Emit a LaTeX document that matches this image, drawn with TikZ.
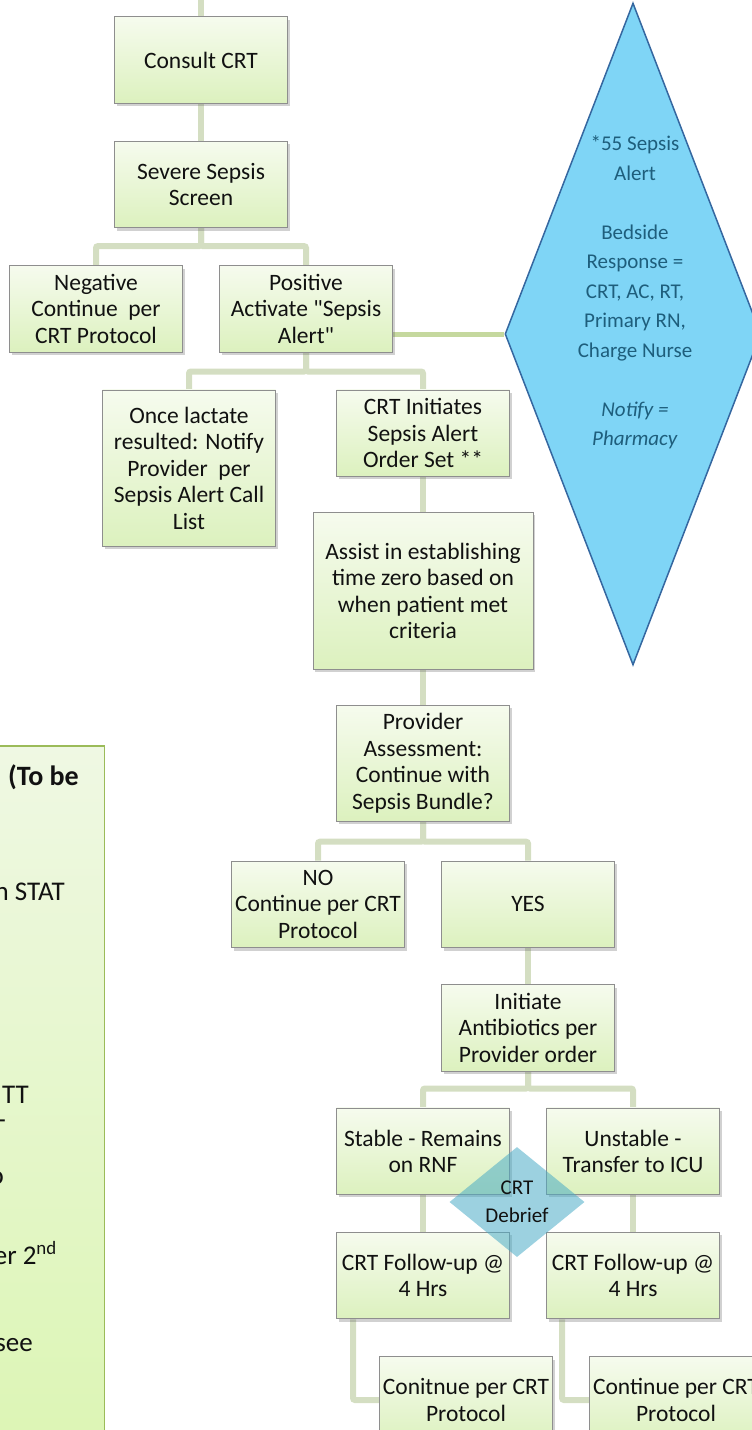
\documentclass[tikz,border=0pt]{standalone}
\usepackage{fontspec}
\setmainfont{Carlito}[Ligatures=TeXOff]
\usepackage{tikz}
\usetikzlibrary{
  backgrounds,
  positioning,
  shadows,
  shapes.geometric
}
\definecolor{ink}{HTML}{111111}
\definecolor{boxtop}{HTML}{F6FBEE}
\definecolor{boxbottom}{HTML}{DCF1BE}
\definecolor{boxline}{HTML}{8E8E8E}
\definecolor{link}{HTML}{D4DEC2}
\definecolor{alertlink}{HTML}{C5D89E}
\definecolor{alertfill}{HTML}{7FD5F6}
\definecolor{alertline}{HTML}{3567A0}
\definecolor{alerttext}{HTML}{1E5E7C}
\definecolor{debrief}{HTML}{4BACC6}
\definecolor{keyline}{HTML}{9BBB59}
\definecolor{keytop}{HTML}{EFF8E3}
\definecolor{keybottom}{HTML}{DBF5B2}
\tikzset{
  stepbox/.style={
    draw=boxline,
    line width=0.9pt,
    top color=boxtop,
    bottom color=boxbottom,
    drop shadow={shadow xshift=2pt, shadow yshift=-3pt, fill=black!60, opacity=0.3},
    minimum width=173pt,
    minimum height=86.5pt,
    inner sep=2pt,
    align=center,
    text=ink,
    font=\fontsize{23.5}{26.5}\selectfont
  },
  link/.style={
    draw=link,
    line width=6pt,
    rounded corners=2pt
  },
  alertlink/.style={
    draw=alertlink,
    line width=5pt
  },
  alertshape/.style={
    diamond,
    draw=alertline,
    line width=1.5pt,
    fill=alertfill,
    inner sep=0pt,
    minimum width=256pt,
    minimum height=662pt
  },
  alertlabel/.style={
    align=center,
    inner sep=0pt,
    text=alerttext,
    font=\fontsize{21}{29.5}\selectfont
  },
  debriefshape/.style={
    diamond,
    aspect=1.23,
    fill=debrief,
    fill opacity=0.55,
    text opacity=1,
    inner sep=0pt,
    minimum width=135pt,
    minimum height=110pt,
    align=center,
    text=ink,
    font=\fontsize{21}{28}\selectfont
  },
  keybox/.style={
    draw=keyline,
    line width=1.5pt,
    top color=keytop,
    bottom color=keybottom
  },
  keytext/.style={
    anchor=east,
    inner sep=0pt,
    text=ink,
    font=\fontsize{27}{30}\selectfont
  }
}

\begin{document}
\begin{tikzpicture}[x=1pt, y=1pt, node distance=37pt]
  \useasboundingbox (0,0) rectangle (752,-1430);
  \clip (0,0) rectangle (752,-1430);

  \node[stepbox] (consult) at (201,-60) {Consult CRT};
  \coordinate[above=30pt of consult.north] (entry);
  \node[stepbox, below=of consult] (severe) {Severe Sepsis\\Screen};
  \node[stepbox, below=of severe, xshift=-105pt] (neg)
    {Negative\\Continue\ \ per\\CRT Protocol};
  \node[stepbox, below=of severe, xshift=105pt] (pos)
    {Positive\\Activate "Sepsis\\Alert"};
  \node[stepbox, below=of pos, xshift=-117pt, minimum height=156pt] (lactate)
    {Once lactate\\resulted: Notify\\Provider\ \ per\\Sepsis Alert Call\\List};
  \node[stepbox, below=of pos, xshift=117pt] (initiates)
    {CRT Initiates\\Sepsis Alert\\Order Set **};
  \node[stepbox, below=35pt of initiates, minimum width=220pt, minimum height=157pt] (assist)
    {Assist in establishing\\time zero based on\\when patient met\\criteria};
  \node[stepbox, below=35pt of assist, minimum height=116pt] (provider)
    {Provider\\Assessment:\\Continue with\\Sepsis Bundle?};
  \node[stepbox, below=39pt of provider, xshift=-105pt] (no)
    {NO\\Continue per CRT\\Protocol};
  \node[stepbox, below=39pt of provider, xshift=105pt] (yes) {YES};
  \node[stepbox, below=36pt of yes] (antibiotics)
    {Initiate\\Antibiotics per\\Provider order};
  \node[stepbox, below=36pt of antibiotics, xshift=-105pt] (stable)
    {Stable - Remains\\on RNF};
  \node[stepbox, below=36pt of antibiotics, xshift=105pt] (unstable)
    {Unstable -\\Transfer to ICU};
  \node[stepbox, below=of stable] (followleft) {CRT Follow-up @\\4 Hrs};
  \node[stepbox, below=of unstable] (followright) {CRT Follow-up @\\4 Hrs};
  \node[stepbox, below=of followleft, xshift=43pt] (contleft)
    {Conitnue per CRT\\Protocol};
  \node[stepbox, below=of followright, xshift=43pt] (contright)
    {Continue per CRT\\Protocol};

  \node[debriefshape] (debrief) at (517,-1202) {CRT\\Debrief};

  \node[alertshape] (alert) at (633,-334) {};
  \node[alertlabel] (alertnote) at (635,-292.5) {
    *55 Sepsis\\Alert\\[29.5pt]
    Bedside\\Response =\\CRT, AC, RT,\\Primary RN,\\Charge Nurse\\[29.5pt]
    \textit{Notify =}\\\textit{Pharmacy}
  };

  \node[keybox, anchor=north east, minimum width=140pt, minimum height=740pt] (key)
    at (105,-745) {};
  \node[keytext, font=\fontsize{28}{30}\selectfont\bfseries] (keyhead)
    at (79,-777) {(To be};
  \node[keytext] (keystat) at (65,-892) {n STAT};
  \node[keytext] (keyptt) at (29,-1095) {TT};
  \node[keytext] (keydash) at (6,-1124) {-};
  \node[keytext] (keyo) at (4,-1178) {o};
  \node[keytext] (keysecond) at (57,-1253) {er 2\textsuperscript{nd}};
  \node[keytext] (keysee) at (33,-1345) {see};

  \begin{scope}[on background layer]
    \draw[link] (entry) -- (consult);
    \draw[link] (consult) -- (severe);
    \draw[link] (severe.south) -- ++(0,-18pt) -| (neg.north);
    \draw[link] (severe.south) -- ++(0,-18pt) -| (pos.north);
    \draw[alertlink] (pos.east |- alert.west) -- (alert.west);
    \draw[link] (pos.south) -- ++(0,-19pt) -| (lactate.north);
    \draw[link] (pos.south) -- ++(0,-19pt) -| (initiates.north);
    \draw[link] (initiates) -- (assist);
    \draw[link] (assist) -- (provider);
    \draw[link] (provider.south) -- ++(0,-20pt) -| (no.north);
    \draw[link] (provider.south) -- ++(0,-20pt) -| (yes.north);
    \draw[link] (yes) -- (antibiotics);
    \draw[link] (antibiotics.south) -- ++(0,-17pt) -| (stable.north);
    \draw[link] (antibiotics.south) -- ++(0,-17pt) -| (unstable.north);
    \draw[link] (stable) -- (followleft);
    \draw[link] (unstable) -- (followright);
    \draw[link] (followleft.south west) ++(17pt,0) |- (contleft.west);
    \draw[link] (followright.south west) ++(16pt,0) |- (contright.west);
  \end{scope}
\end{tikzpicture}
\end{document}
